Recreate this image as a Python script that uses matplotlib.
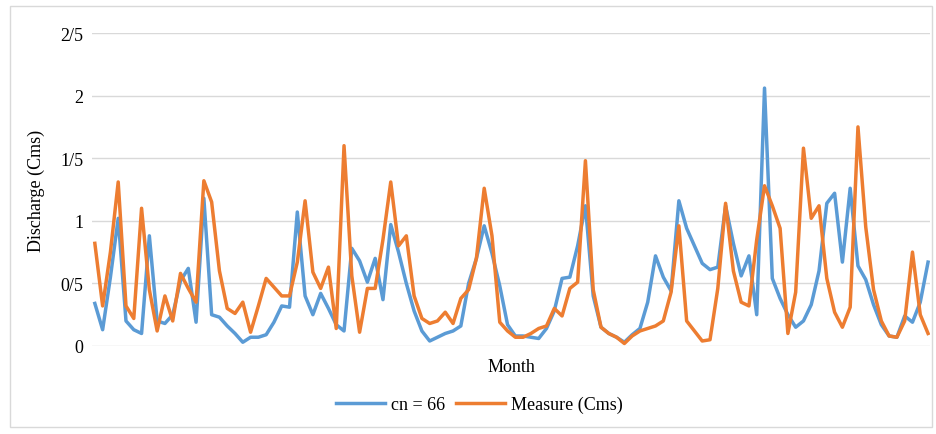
import numpy as np
import matplotlib
matplotlib.use("Agg")
import matplotlib.pyplot as plt
from matplotlib.ticker import FuncFormatter
from matplotlib.patches import Rectangle

# monthly discharge, simulated (cn = 66) and measured
cn66 = [0.34, 0.13, 0.55, 1.02, 0.2, 0.13, 0.1, 0.88, 0.2, 0.18,
        0.25, 0.52, 0.62, 0.19, 1.18, 0.25, 0.23, 0.16, 0.1, 0.03,
        0.07, 0.07, 0.09, 0.19, 0.32, 0.31, 1.07, 0.4, 0.25, 0.42,
        0.3, 0.17, 0.12, 0.78, 0.68, 0.51, 0.7, 0.37, 0.97, 0.75,
        0.5, 0.28, 0.12, 0.04, 0.07, 0.1, 0.12, 0.16, 0.5, 0.7,
        0.96, 0.74, 0.48, 0.17, 0.08, 0.08, 0.07, 0.06, 0.14, 0.28,
        0.54, 0.55, 0.8, 1.12, 0.4, 0.15, 0.1, 0.07, 0.03, 0.09,
        0.14, 0.35, 0.72, 0.55, 0.44, 1.16, 0.94, 0.8, 0.66, 0.61,
        0.63, 1.12, 0.82, 0.56, 0.72, 0.25, 2.06, 0.54, 0.38, 0.25,
        0.15, 0.2, 0.33, 0.6, 1.14, 1.22, 0.67, 1.26, 0.64, 0.53,
        0.33, 0.17, 0.08, 0.07, 0.24, 0.19, 0.35, 0.67]

measure = [0.82, 0.32, 0.75, 1.31, 0.32, 0.22, 1.1, 0.45, 0.12, 0.4,
           0.2, 0.58, 0.46, 0.35, 1.32, 1.15, 0.6, 0.3, 0.26, 0.35,
           0.11, 0.32, 0.54, 0.47, 0.4, 0.4, 0.67, 1.16, 0.59, 0.46,
           0.63, 0.14, 1.6, 0.56, 0.11, 0.46, 0.46, 0.85, 1.31, 0.8,
           0.88, 0.4, 0.22, 0.18, 0.2, 0.27, 0.18, 0.38, 0.45, 0.7,
           1.26, 0.88, 0.19, 0.12, 0.07, 0.07, 0.1, 0.14, 0.16, 0.3,
           0.24, 0.46, 0.51, 1.48, 0.45, 0.15, 0.1, 0.07, 0.02, 0.08,
           0.12, 0.14, 0.16, 0.2, 0.43, 0.96, 0.2, 0.12, 0.04, 0.05,
           0.46, 1.14, 0.6, 0.35, 0.32, 0.85, 1.28, 1.12, 0.94, 0.1,
           0.43, 1.58, 1.02, 1.12, 0.54, 0.27, 0.15, 0.31, 1.75, 0.95,
           0.45, 0.2, 0.08, 0.07, 0.2, 0.75, 0.25, 0.1]

yticks = [0, 0.5, 1, 1.5, 2, 2.5]

month = np.arange(len(cn66))

plt.rcParams['font.family'] = ['Liberation Serif', 'DejaVu Serif']

fig = plt.figure(figsize=(9.36, 4.35), dpi=100)
ax = fig.add_axes([0.098, 0.2023, 0.896, 0.7195])

ax.plot(month, cn66, color='#5B9BD5', lw=2.5, label='cn = 66')
ax.plot(month, measure, color='#ED7D31', lw=2.5, label='Measure (Cms)')

ax.set_xlim(-0.4, 107.3)
ax.set_ylim(0, 2.5)
ax.set_yticks(yticks)
# decimal point is written as a slash in the original
ax.yaxis.set_major_formatter(FuncFormatter(lambda v, p: ('%g' % v).replace('.', '/')))
ax.tick_params(axis='y', length=0, pad=6, labelsize=13)
ax.set_xticks([])
ax.grid(True, axis='y', color='#d9d9d9', lw=1)
ax.set_axisbelow(True)
for s in ax.spines.values():
    s.set_visible(False)

ax.set_ylabel('Discharge (Cms)', fontsize=13, labelpad=11)
ax.set_xlabel('Month', fontsize=13, labelpad=9)

fig.legend(loc='center', bbox_to_anchor=(0.512, 0.068), ncol=2, frameon=False,
           fontsize=13, handlelength=2.7, columnspacing=0.6, handletextpad=0.35)

# light frame round the whole chart
fig.patches.append(Rectangle((0.011, 0.016), 0.985, 0.968, transform=fig.transFigure,
                             fill=False, edgecolor='#d9d9d9', lw=1))

plt.savefig('out.png', dpi=100)
